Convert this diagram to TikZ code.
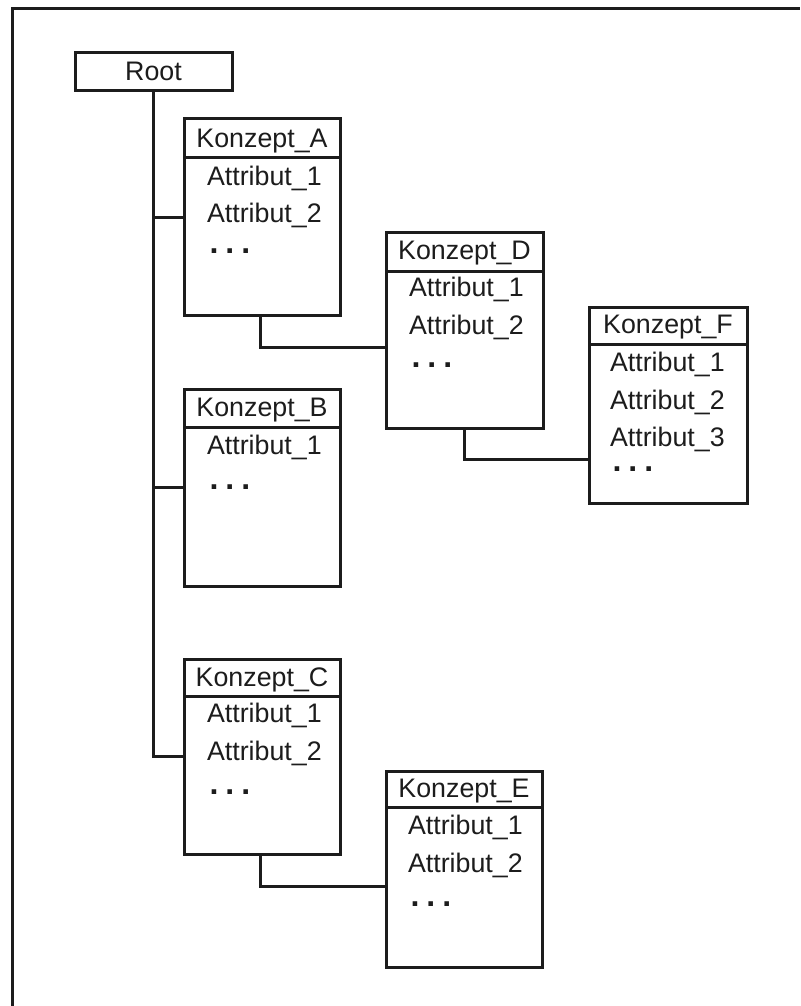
\documentclass[tikz,border=0pt]{standalone}
\usepackage{fontspec}
\setmainfont{Liberation Sans}
\usetikzlibrary{calc}
\definecolor{ink}{RGB}{28,28,28}
\newcommand{\mydots}{{\fontsize{32}{32}\selectfont\textbf{.\kern7pt.\kern7pt.}}}
\begin{document}
\begin{tikzpicture}[x=1pt,y=-1pt,
  line width=3pt, draw=ink,
  box/.style={draw=ink, line width=3pt, rectangle, minimum width=156pt, inner sep=0pt, outer sep=0pt},
  title/.style={font=\fontsize{26.8}{27}\selectfont, text=ink, anchor=base, inner sep=0pt},
  attr/.style={font=\fontsize{26.8}{27}\selectfont, text=ink, anchor=base west, inner sep=0pt},
  wire/.style={draw=ink, line width=3pt}
]
\useasboundingbox (0,0) rectangle (800,1006);
\fill[white] (0,0) rectangle (800,1006);
% outer frame (cut at right and bottom)
\draw[wire] (12,1006) -- (12,9) -- (800,9);

% Root
\node[box, minimum width=157pt, minimum height=38pt] (root) at (153.5,72) {};
\node[title] (rootT) at (153.5,81) {Root};

% Konzept_A
\node[box, minimum height=196pt] (A) at (262,217) {};
\draw[wire] (184,157) -- (340,157);
\node[title] (AT) at (262,147) {Konzept\_A};
\node[attr] (A1) at (205.5,185) {Attribut\_1};
\node[attr] (A2) at (205.5,222) {Attribut\_2};
\node[attr] (A3) at (208,253) {\mydots};

% Konzept_B
\node[box, minimum height=197pt] (B) at (262,487.5) {};
\draw[wire] (184,427) -- (340,427);
\node[title] (BT) at (262,416) {Konzept\_B};
\node[attr] (B1) at (205.5,454) {Attribut\_1};
\node[attr] (B2) at (208,489) {\mydots};

% Konzept_C
\node[box, minimum height=195pt] (C) at (262,756.5) {};
\draw[wire] (184,696) -- (340,696);
\node[title] (CT) at (262,686) {Konzept\_C};
\node[attr] (C1) at (205.5,722) {Attribut\_1};
\node[attr] (C2) at (205.5,760) {Attribut\_2};
\node[attr] (C3) at (208,794) {\mydots};

% Konzept_D
\node[box, minimum width=157pt, minimum height=196pt] (D) at (464.5,330) {};
\draw[wire] (386,271) -- (543,271);
\node[title] (DT) at (464.5,259) {Konzept\_D};
\node[attr] (D1) at (407.5,296) {Attribut\_1};
\node[attr] (D2) at (407.5,334) {Attribut\_2};
\node[attr] (D3) at (410,367) {\mydots};

% Konzept_E
\node[box, minimum height=196pt] (E) at (464,869) {};
\draw[wire] (386,807) -- (542,807);
\node[title] (ET) at (464,797) {Konzept\_E};
\node[attr] (E1) at (406.5,834) {Attribut\_1};
\node[attr] (E2) at (406.5,872) {Attribut\_2};
\node[attr] (E3) at (409,906) {\mydots};

% Konzept_F
\node[box, minimum width=158pt, minimum height=196pt] (F) at (668,405) {};
\draw[wire] (589,344) -- (747,344);
\node[title] (FT) at (668,333) {Konzept\_F};
\node[attr] (F1) at (608.5,371) {Attribut\_1};
\node[attr] (F2) at (608.5,409) {Attribut\_2};
\node[attr] (F3) at (608.5,446) {Attribut\_3};
\node[attr] (F4) at (611,471) {\mydots};

% connectors
\draw[wire] (root.south) |- (A.west);
\draw[wire] (root.south) |- (B.west);
\draw[wire] (root.south) |- (C.west);
\draw[wire] ($(A.south)+(-2,0)$) |- ($(D.west)+(0,17)$);
\draw[wire] (D.south) |- ($(F.west)+(0,54)$);
\draw[wire] ($(C.south)+(-2,0)$) |- ($(E.west)+(0,17)$);
\end{tikzpicture}
\end{document}
